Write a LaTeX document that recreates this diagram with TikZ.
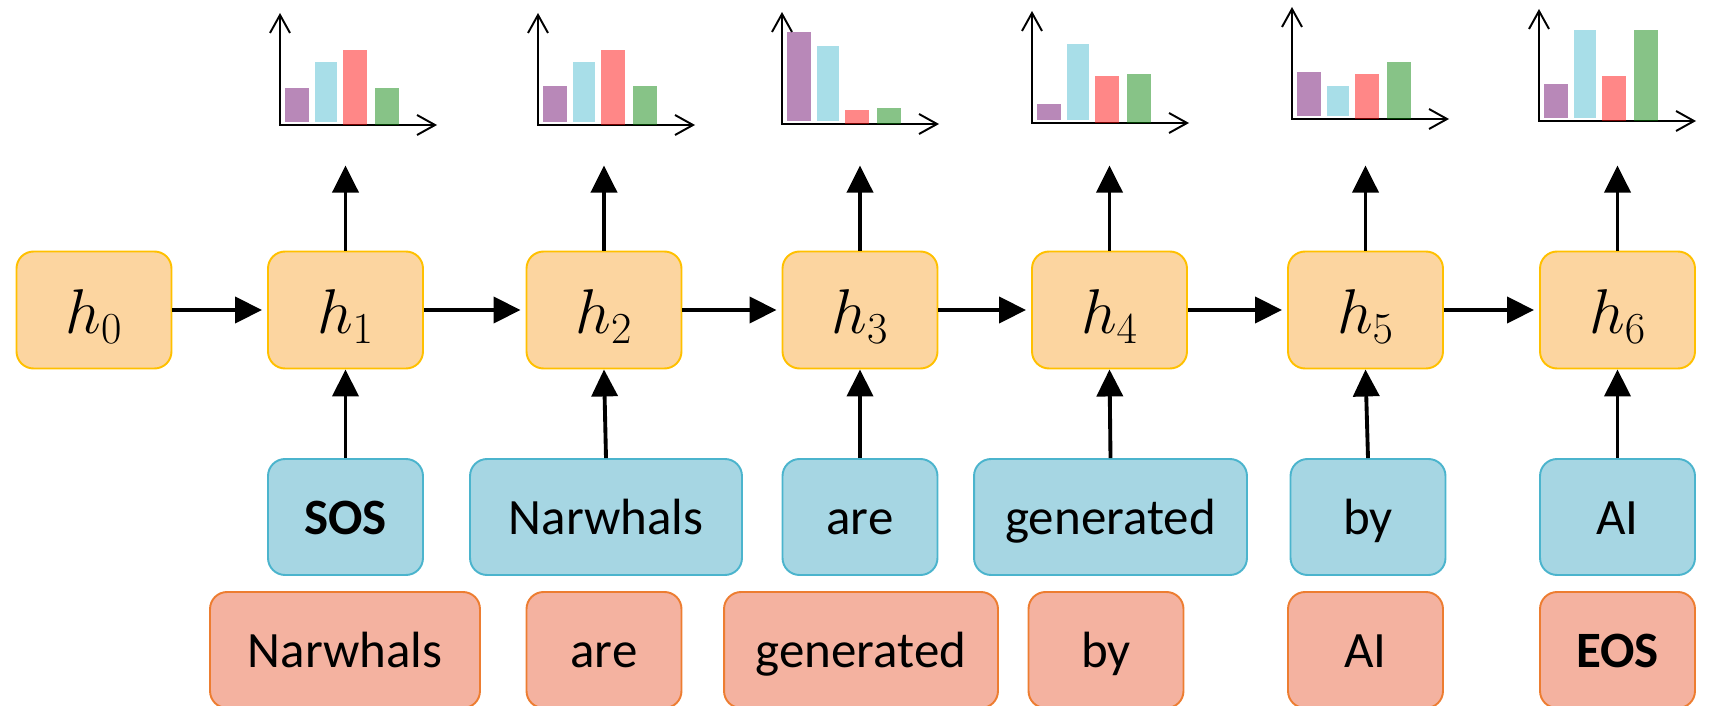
\RequirePackage{fix-cm}
\documentclass[tikz,border=0pt]{standalone}
\usepackage{fontspec}
\setmainfont{Carlito}
\usetikzlibrary{arrows.meta}

\definecolor{hidfill}{RGB}{252,213,160}
\definecolor{hidline}{RGB}{255,192,0}
\definecolor{tokfill}{RGB}{166,214,227}
\definecolor{tokline}{RGB}{75,180,205}
\definecolor{tgtfill}{RGB}{244,178,160}
\definecolor{tgtline}{RGB}{237,125,49}
\definecolor{barA}{RGB}{104,2,104}
\definecolor{barB}{RGB}{70,185,206}
\definecolor{barC}{RGB}{255,0,0}
\definecolor{barD}{RGB}{0,128,0}

\tikzstyle{box} = [rectangle, rounded corners=0.34cm, line width=1.1pt, inner sep=0pt, minimum height=2.32cm, font=\fontsize{29}{34}\selectfont, text height=0.74cm, text depth=0.06cm]
\tikzstyle{hid} = [box, draw=hidline, fill=hidfill, minimum width=3.1cm, minimum height=2.34cm, font=\fontsize{36}{40}\selectfont, text height=1.0cm, text depth=0.04cm]
\tikzstyle{tok} = [box, draw=tokline, fill=tokfill, minimum width=3.1cm]
\tikzstyle{tgt} = [box, draw=tgtline, fill=tgtfill, minimum width=3.1cm]
\tikzstyle{flow} = [line width=2.2pt, -{Triangle[length=0.54cm, width=0.52cm]}]
\tikzstyle{axis} = [line width=1.1pt, {Straight Barb[length=0.36cm, width=0.4cm]}-{Straight Barb[length=0.36cm, width=0.4cm]}]
\tikzstyle{bar} = [fill opacity=0.47]

\begin{document}
\begin{tikzpicture}[x=0.02cm, y=-0.02cm]
\useasboundingbox (0,0) rectangle (1711,706);

% Hidden states
\foreach \i/\x in {0/94, 1/345.5, 2/604, 3/860, 4/1109.5, 5/1365.5, 6/1617.5}
  \node[hid] (h\i) at (\x,310) {$h_\i$};

% Inputs
\node[tok] (in1) at (345.5,517) {\textbf{SOS}};
\node[tok, minimum width=5.44cm] (in2) at (606,517) {Narwhals};
\node[tok] (in3) at (860,517) {are};
\node[tok, minimum width=5.46cm] (in4) at (1110.5,517) {generated};
\node[tok] (in5) at (1368,517) {by};
\node[tok] (in6) at (1617.5,517) {AI};

% Targets
\node[tgt, minimum width=5.4cm] (out1) at (345,650) {Narwhals};
\node[tgt] (out2) at (604,650) {are};
\node[tgt, minimum width=5.48cm] (out3) at (861,650) {generated};
\node[tgt] (out4) at (1106,650) {by};
\node[tgt] (out5) at (1365.5,650) {AI};
\node[tgt] (out6) at (1617.5,650) {\textbf{EOS}};

% Recurrence
\foreach \i in {0,...,5} {
  \pgfmathtruncatemacro\j{\i+1}
  \draw[flow, shorten >=0.1cm] (h\i.east) -- (h\j.west);
}

% Inputs feed in, distributions come out
\foreach \i in {1,...,6} {
  \draw[flow] (in\i.north) -- (h\i.south);
  \path (h\i.north) ++(0,-85) coordinate (p\i);
  \draw[flow] (h\i.north) -- (p\i);
}

% Output distributions
\foreach \x/\y/\a/\b/\c/\d in {280/125/37/63/75/37, 538/125/39/63/75/39, 782/124/92/78/14/16,
    1032/123/19/79/47/49, 1292/119/47/33/45/57, 1539/121/37/91/45/91} {
  \draw[axis] (\x,\y-112) -- (\x,\y) -- (\x+157,\y);
  \fill[bar, barA] (\x+5,\y-3) rectangle (\x+29,\y-\a);
  \fill[bar, barB] (\x+35,\y-3) rectangle (\x+57,\y-\b);
  \fill[bar, barC] (\x+63,\y) rectangle (\x+87,\y-\c);
  \fill[bar, barD] (\x+95,\y) rectangle (\x+119,\y-\d);
}

\end{tikzpicture}
\end{document}
